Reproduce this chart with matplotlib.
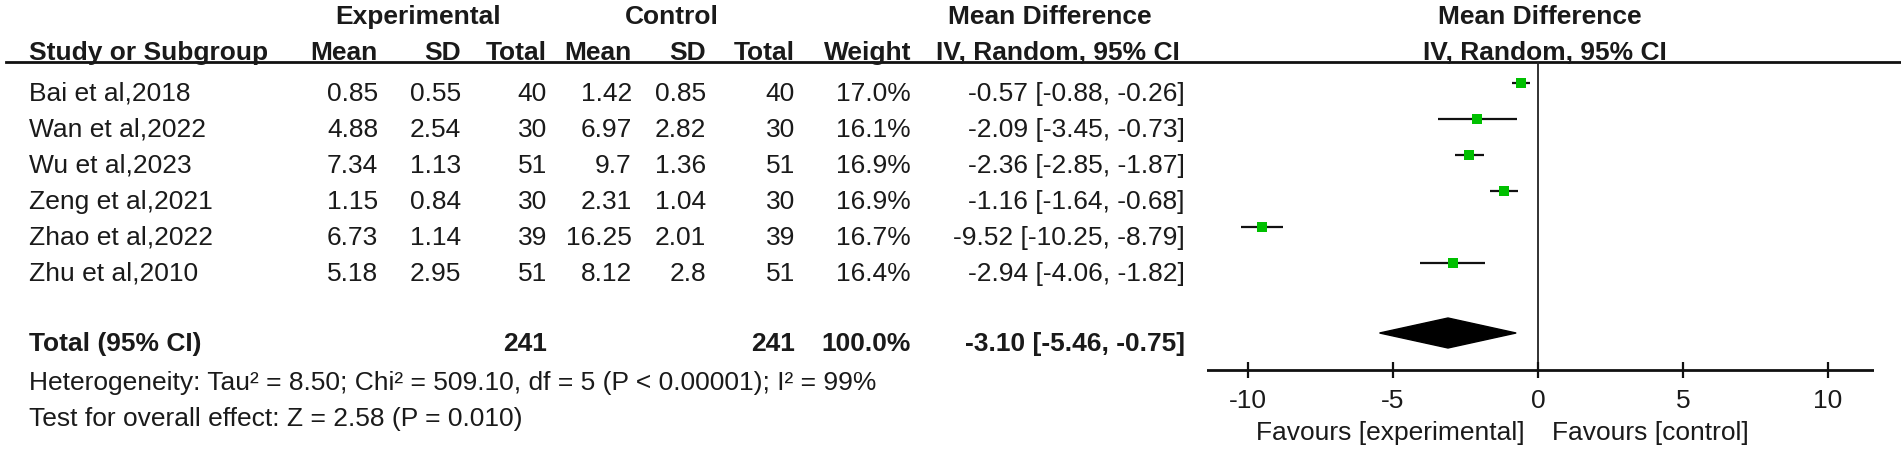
import matplotlib
matplotlib.use("Agg")
import matplotlib.pyplot as plt
from matplotlib.patches import Polygon

plt.rcParams['font.family'] = ['Liberation Sans', 'DejaVu Sans']

# ==================================================
# Datos del forest plot
# ==================================================
studies = ["Bai et al,2018", "Wan et al,2022", "Wu et al,2023",
           "Zeng et al,2021", "Zhao et al,2022", "Zhu et al,2010"]
exp_mean = ["0.85", "4.88", "7.34", "1.15", "6.73", "5.18"]
exp_sd = ["0.55", "2.54", "1.13", "0.84", "1.14", "2.95"]
exp_n = [40, 30, 51, 30, 39, 51]
ctl_mean = ["1.42", "6.97", "9.7", "2.31", "16.25", "8.12"]
ctl_sd = ["0.85", "2.82", "1.36", "1.04", "2.01", "2.8"]
ctl_n = [40, 30, 51, 30, 39, 51]
weights = [17.0, 16.1, 16.9, 16.9, 16.7, 16.4]
md = [-0.57, -2.09, -2.36, -1.16, -9.52, -2.94]
ci_low = [-0.88, -3.45, -2.85, -1.64, -10.25, -4.06]
ci_high = [-0.26, -0.73, -1.87, -0.68, -8.79, -1.82]

total_md = -3.10
total_low = -5.46
total_high = -0.75
total_weight = 100.0

heterogeneity = "Heterogeneity: Tau² = 8.50; Chi² = 509.10, df = 5 (P < 0.00001); I² = 99%"
overall = "Test for overall effect: Z = 2.58 (P = 0.010)"
ticks = [-10, -5, 0, 5, 10]

# ==================================================
# Figura (coordenadas en pixeles para el texto)
# ==================================================
W, H = 1901, 452
fig = plt.figure(figsize=(W / 100, H / 100), dpi=100)
ax = fig.add_axes([0, 0, 1, 1])
ax.set_xlim(0, W)
ax.set_ylim(H, 0)
ax.axis("off")

fs = 19
txt = "#1a1a1a"
# linea base del texto de cada fila
row_y = [101, 137, 173, 209, 245, 281]
total_y = 351
het_y = 390
test_y = 426
h1_y = 24
h2_y = 60

x_name = 29
cols = [378, 461, 547, 632, 706, 795, 911, 1185]


def put(x, y, s, ha="right", bold=False):
    ax.text(x, y, s, fontsize=fs, color=txt, ha=ha, va="baseline",
            fontweight="bold" if bold else "normal")


# encabezados
put(418, h1_y, "Experimental", ha="center", bold=True)
put(672, h1_y, "Control", ha="center", bold=True)
put(1050, h1_y, "Mean Difference", ha="center", bold=True)
put(1540, h1_y, "Mean Difference", ha="center", bold=True)

put(x_name, h2_y, "Study or Subgroup", ha="left", bold=True)
for x, lab in zip(cols[:7], ["Mean", "SD", "Total", "Mean", "SD", "Total", "Weight"]):
    put(x, h2_y, lab, bold=True)
put(1058, h2_y, "IV, Random, 95% CI", ha="center", bold=True)
put(1545, h2_y, "IV, Random, 95% CI", ha="center", bold=True)
ax.axhline(63, xmin=6 / W, xmax=1, color="#111111", lw=2.0)

# filas de estudios
for i, name in enumerate(studies):
    y = row_y[i]
    vals = [exp_mean[i], exp_sd[i], str(exp_n[i]), ctl_mean[i], ctl_sd[i], str(ctl_n[i]),
            f"{weights[i]:.1f}%", f"{md[i]:.2f} [{ci_low[i]:.2f}, {ci_high[i]:.2f}]"]
    put(x_name, y, name, ha="left")
    for x, v in zip(cols, vals):
        put(x, y, v)

# total
put(x_name, total_y, "Total (95% CI)", ha="left", bold=True)
put(cols[2], total_y, str(sum(exp_n)), bold=True)
put(cols[5], total_y, str(sum(ctl_n)), bold=True)
put(cols[6], total_y, f"{total_weight:.1f}%", bold=True)
put(cols[7], total_y, f"{total_md:.2f} [{total_low:.2f}, {total_high:.2f}]", bold=True)
put(x_name, het_y, heterogeneity, ha="left")
put(x_name, test_y, overall, ha="left")

# ==================================================
# Panel del forest plot
# ==================================================
x0, x1 = 1207, 1874
fa = fig.add_axes([x0 / W, 0, (x1 - x0) / W, 1])
fa.set_xlim(-11.41, 11.59)
fa.set_ylim(H, 0)
fa.axis("off")

axis_y = 371
fa.vlines(0, 63, axis_y, color="#222222", lw=1.3)
fa.axhline(axis_y, color="#111111", lw=2.0)
fa.vlines(ticks, axis_y - 8, axis_y + 8, color="#111111", lw=1.6)
for t in ticks:
    fa.text(t, 408, str(t), fontsize=fs, color=txt, ha="center", va="baseline")
fa.text(-0.45, 440, "Favours [experimental]", fontsize=fs, color=txt, ha="right", va="baseline")
fa.text(0.5, 440, "Favours [control]", fontsize=fs, color=txt, ha="left", va="baseline")

for i in range(len(studies)):
    y = row_y[i] - 17
    fa.plot([ci_low[i], ci_high[i]], [y, y], color="#111111", lw=1.6, solid_capstyle="butt")
    fa.plot(md[i], y, marker="s", color="#00c000", markersize=7.8 * (weights[i] / 16.7) ** 0.5,
            markeredgewidth=0)

dy = 15
ty = total_y - 17
diamond = Polygon([[total_low, ty], [total_md, ty - dy], [total_high, ty], [total_md, ty + dy]],
                  closed=True, facecolor="black", edgecolor="black")
fa.add_patch(diamond)

fig.savefig("out.png", dpi=100)
